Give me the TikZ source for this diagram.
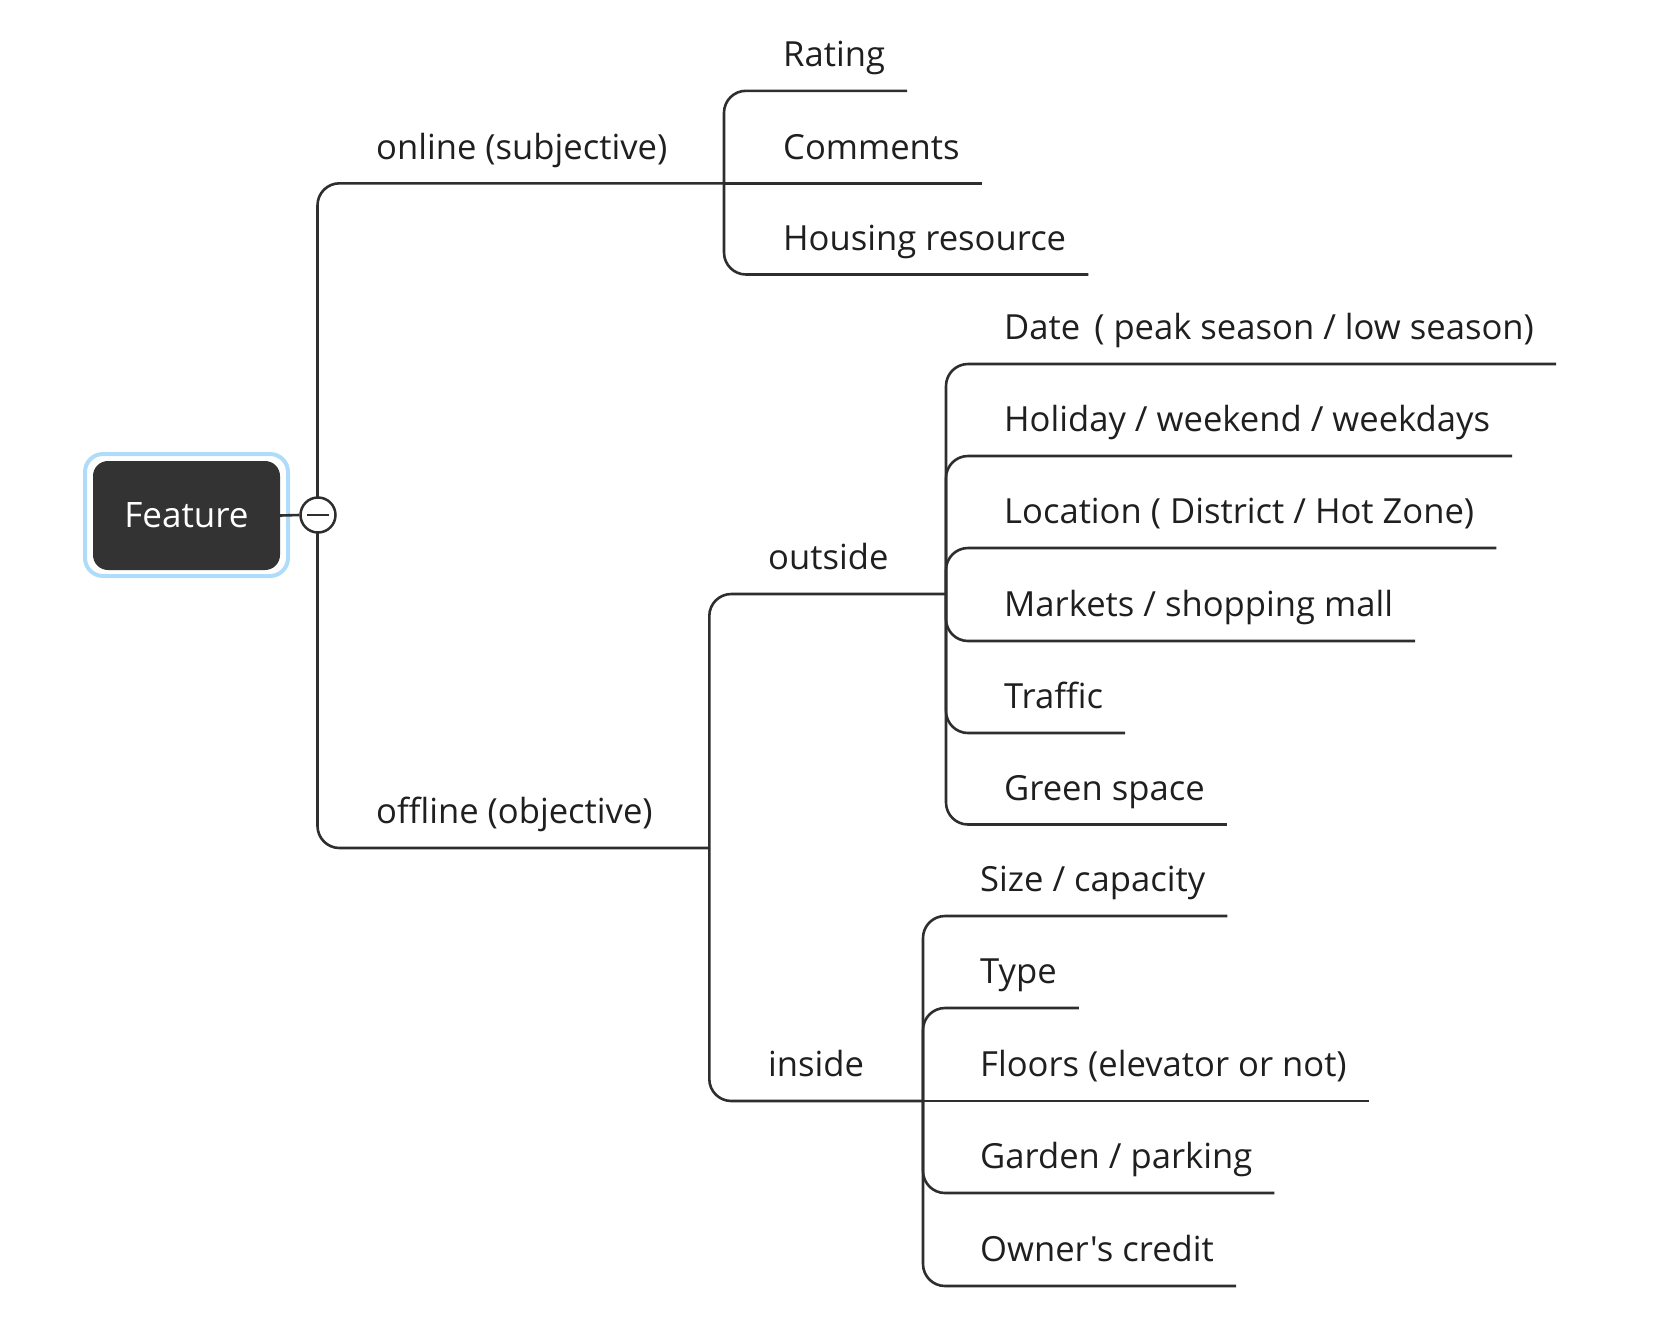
\documentclass[tikz,border=0pt]{standalone}
\usepackage{fontspec}
\newfontfamily\mapfont{Open Sans}
\definecolor{linegray}{HTML}{2E2E2E}
\definecolor{rootfill}{HTML}{333333}
\definecolor{selblue}{HTML}{AEDCF9}
\begin{document}
\begin{tikzpicture}[x=1pt,y=-1pt,
		branch/.style={draw=linegray, line width=2.6pt, rounded corners=22pt},
		topic/.style={anchor=south west, inner sep=0pt, text depth=24pt, text=black!88, font=\mapfont\fontsize{34.6}{42}\selectfont}]
		\useasboundingbox (0,0) rectangle (1674,1326);
		% junctions of the tree
		\coordinate (jroot) at (317.5,515);
		\coordinate (jonline) at (724,183.3);
		\coordinate (joffline) at (709.3,848);
		\coordinate (joutside) at (946,594);
		\coordinate (jinside) at (923,1101);
		% topics
		\node[topic] (online) at (376,183.3) {online (subjective)};
		\node[topic] (offline) at (376,848) {offline (objective)};
		\node[topic] (rating) at (783,90.8) {Rating};
		\node[topic] (comments) at (783,183.3) {Comments};
		\node[topic] (housing) at (783,274.5) {Housing resource};
		\node[topic] (outside) at (768,594) {outside};
		\node[topic] (inside) at (768,1101) {inside};
		\node[topic] (date) at (1004,364) {Date\hspace{5pt} ( peak season / low season)};
		\node[topic] (holiday) at (1004,456) {Holiday / weekend / weekdays};
		\node[topic] (location) at (1004,548) {Location ( District / Hot Zone)};
		\node[topic] (markets) at (1004,641) {Markets / shopping mall};
		\node[topic] (traffic) at (1004,733) {Traffic};
		\node[topic] (green) at (1004,824.5) {Green space};
		\node[topic] (size) at (980,916) {Size / capacity};
		\node[topic] (type) at (980,1008) {Type};
		\node[topic] (floors) at (980,1101) {Floors (elevator or not)};
		\node[topic] (garden) at (980,1193) {Garden / parking};
		\node[topic] (credit) at (980,1286) {Owner's credit};
		% main branches
		\draw[branch] (jroot) |- (online.south west) -- (jonline);
		\draw[branch] (jroot) |- (offline.south west) -- (joffline);
		\draw[branch] (joffline) |- (outside.south west) -- (joutside);
		\draw[branch] (joffline) |- (inside.south west) -- (jinside);
		% leaves
		\draw[branch] (jonline) |- (rating.south west) -- ([xshift=22pt]rating.south east);
		\draw[branch] (jonline) -- (comments.south west) -- ([xshift=22pt]comments.south east);
		\draw[branch] (jonline) |- (housing.south west) -- ([xshift=22pt]housing.south east);
		\foreach \leaf in {date,holiday,location,markets,traffic,green}
			\draw[branch] (joutside) |- (\leaf.south west) -- ([xshift=22pt]\leaf.south east);
		\foreach \leaf in {size,type,garden,credit}
			\draw[branch] (jinside) |- (\leaf.south west) -- ([xshift=22pt]\leaf.south east);
		\draw[branch] (jinside) -- (floors.south west) -- ([xshift=22pt]floors.south east);
		% central topic
		\node[draw=selblue, line width=4pt, rounded corners=18pt, minimum width=203pt, minimum height=122pt] (sel) at (186.5,515) {};
		\node[fill=rootfill, rounded corners=15pt, minimum width=187pt, minimum height=109pt, text=white, font=\mapfont\fontsize{35}{42}\selectfont] (feature) at (186.5,515.5) {Feature};
		\node[circle, draw=linegray, fill=white, line width=2.5pt, minimum size=35pt, inner sep=0pt] (toggle) at (318,515) {};
		\draw[linegray, line width=2.5pt] ([xshift=-11pt]toggle.center) -- ([xshift=11pt]toggle.center);
		\draw[linegray, line width=2.6pt] (feature.east) -- (toggle.west);
	\end{tikzpicture}
\end{document}
